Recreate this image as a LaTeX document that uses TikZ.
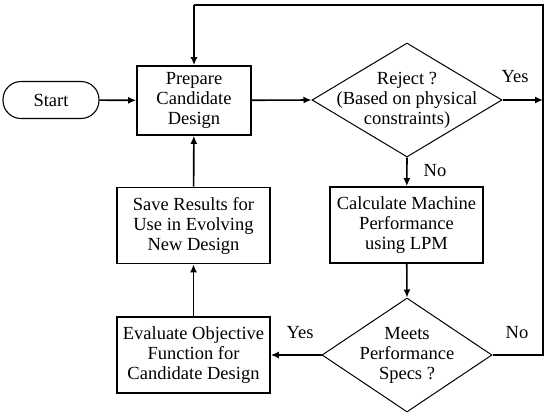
\documentclass[tikz,border=0pt]{standalone}
\usepackage{fontspec}
\setmainfont{Liberation Serif}
\usetikzlibrary{arrows.meta,shapes.geometric}

\begin{document}
\begin{tikzpicture}[x=1pt,y=-1pt,
    txt/.style={align=center,font=\fontsize{18.5}{20}\selectfont},
    box/.style={rectangle,draw,line width=1.6pt,minimum width=153pt,minimum height=76pt,inner sep=0pt},
    term/.style={rectangle,draw,line width=1.1pt,rounded corners=18pt,minimum width=96pt,minimum height=37pt,inner sep=0pt},
    decision/.style={diamond,draw,line width=1pt,inner sep=0pt},
    flow/.style={-{Latex[length=8pt,width=7pt]},line width=1.6pt},
    wire/.style={line width=1.6pt}
]
\useasboundingbox (0,0) rectangle (550,416);
%%% top row
\node[term,txt] (start) at (51,100) {Start};
\node[box,txt,minimum width=114pt,minimum height=69pt] (prepare) at (194,100.5) {Prepare\\Candidate\\Design};
\node[decision,minimum width=190pt,minimum height=114pt] (reject) at (407,100) {};
\node[txt] (rejecttxt) at (reject.center) {Reject ?\\(Based on physical\\constraints)};
%%% right column
\node[box,txt] (calc) at (406.5,225) {Calculate Machine\\Performance\\using LPM};
\node[decision,minimum width=170pt,minimum height=114pt] (meets) at (407,355) {};
\node[txt] (meetstxt) at (meets.center) {Meets\\Performance\\Specs ?};
%%% left column
\node[box,txt] (save) at (193.5,225.5) {Save Results for\\Use in Evolving\\New Design};
\node[box,txt] (evaluate) at (193.5,355) {Evaluate Objective\\Function for\\Candidate Design};
% loop back corners
\coordinate (rj) at (543,100);
\coordinate (rb) at (543,355);
\coordinate (rt) at (543,5);
\coordinate (lt) at (194,5);
% main flow
\draw[flow] (start) -- (prepare);
\draw[flow] (prepare) -- (reject.west);
\draw[flow] (reject.south) -- (calc);
\draw[flow] (calc) -- (meets.north);
\draw[flow] (meets.west) -- (evaluate);
\draw[flow] (evaluate) -- (save);
\draw[flow] (save) -- (prepare);
% rejected / failed designs go back to the start of the loop
\draw[flow] (reject.east) -- (rj);
\draw[wire] (meets.east) -- (rb) -- (rt) -- (lt);
\draw[flow] (lt) -- (prepare.north);
% branch labels
\node[txt] (yes1) at (515,77) {Yes};
\node[txt] (no1) at (435,171) {No};
\node[txt] (yes2) at (300,333) {Yes};
\node[txt] (no2) at (517,333) {No};
\end{tikzpicture}
\end{document}
